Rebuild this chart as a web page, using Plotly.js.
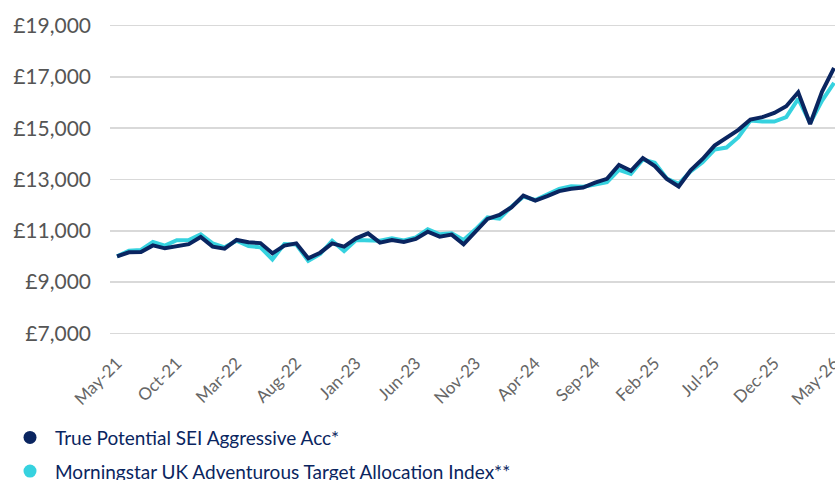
<!DOCTYPE html>
<html>
<head>
<meta charset="utf-8">
<script src="https://cdn.plot.ly/plotly-3.0.1.min.js"></script>
<style>html,body{margin:0;padding:0;background:#fff;}#chart{width:835px;height:480px;}</style>
</head>
<body>
<div id="chart"></div>
<script>
const months = [
  "May-21","Jun-21","Jul-21","Aug-21","Sep-21","Oct-21","Nov-21","Dec-21","Jan-22","Feb-22","Mar-22","Apr-22",
  "May-22","Jun-22","Jul-22","Aug-22","Sep-22","Oct-22","Nov-22","Dec-22","Jan-23","Feb-23","Mar-23","Apr-23",
  "May-23","Jun-23","Jul-23","Aug-23","Sep-23","Oct-23","Nov-23","Dec-23","Jan-24","Feb-24","Mar-24","Apr-24",
  "May-24","Jun-24","Jul-24","Aug-24","Sep-24","Oct-24","Nov-24","Dec-24","Jan-25","Feb-25","Mar-25","Apr-25",
  "May-25","Jun-25","Jul-25","Aug-25","Sep-25","Oct-25","Nov-25","Dec-25","Jan-26","Feb-26","Mar-26","Apr-26",
  "May-26"
];
const tickLabels = ["May-21","Oct-21","Mar-22","Aug-22","Jan-23","Jun-23","Nov-23","Apr-24","Sep-24","Feb-25","Jul-25","Dec-25","May-26"];
const yTicks = [7000, 9000, 11000, 13000, 15000, 17000, 19000];
const yTickLabels = ["\u00a37,000","\u00a39,000","\u00a311,000","\u00a313,000","\u00a315,000","\u00a317,000","\u00a319,000"];

const fundName = "True Potential SEI Aggressive Acc*";
const fundValues = [
  10000,10160,10170,10430,10315,10380,10480,10755,10380,10300,10640,10550,
  10520,10120,10420,10510,9925,10145,10510,10380,10705,10900,10535,10640,
  10560,10680,10965,10770,10850,10470,10965,11460,11615,11915,12370,12175,
  12350,12545,12635,12685,12880,13025,13570,13340,13835,13520,13025,12725,
  13360,13800,14320,14610,14935,15340,15430,15595,15855,16400,15165,16430,
  17350
];
const indexName = "Morningstar UK Adventurous Target Allocation Index**";
const indexValues = [
  10000,10220,10250,10560,10420,10630,10640,10860,10510,10355,10610,10405,
  10355,9885,10480,10460,9830,10095,10610,10210,10640,10640,10610,10705,
  10620,10745,11055,10860,10900,10640,11055,11525,11470,11940,12330,12200,
  12400,12635,12740,12715,12800,12895,13375,13220,13780,13650,13040,12830,
  13320,13670,14165,14245,14650,15300,15260,15260,15430,16140,15205,16075,
  16765
];

const navy = "#0a2560";
const cyan = "#36d2df";
const font = "Lato, 'Open Sans', sans-serif";

const traces = [
  {x: months, y: indexValues, type: "scatter", mode: "lines", name: indexName,
   line: {color: cyan, width: 4}, showlegend: false, hoverinfo: "skip"},
  {x: months, y: fundValues, type: "scatter", mode: "lines", name: fundName,
   line: {color: navy, width: 4}, showlegend: false, hoverinfo: "skip"},
  {x: [null], y: [null], type: "scatter", mode: "markers", name: fundName,
   marker: {color: navy, size: 13}, legendgroup: "a", showlegend: true},
  {x: [null], y: [null], type: "scatter", mode: "markers", name: indexName,
   marker: {color: cyan, size: 13}, legendgroup: "b", showlegend: true}
];

const layout = {
  width: 835, height: 480,
  margin: {l: 110, r: 0, t: 20, b: 140, autoexpand: false},
  paper_bgcolor: "#ffffff", plot_bgcolor: "#ffffff",
  font: {family: font, color: "#555555"},
  xaxis: {
    type: "category",
    range: [-0.59, 60.08],
    tickmode: "array", tickvals: tickLabels, ticktext: tickLabels,
    tickangle: -45, tickfont: {size: 17, color: "#666666"},
    showgrid: false, zeroline: false, showline: false, ticks: "",
    ticklabelstandoff: 9, automargin: false
  },
  yaxis: {
    range: [6740, 19220],
    tickmode: "array", tickvals: yTicks, ticktext: yTickLabels,
    tickfont: {size: 21, color: "#555555"},
    showgrid: true, gridcolor: "#d9d9d9", gridwidth: 1.5,
    zeroline: false, showline: false, ticks: "", ticklabelstandoff: 18,
    automargin: false
  },
  showlegend: true,
  legend: {
    orientation: "v", xref: "container", yref: "container",
    x: 0.006, y: 0.128, xanchor: "left", yanchor: "top",
    itemwidth: 40,
    font: {size: 19, color: navy}, traceorder: "grouped", tracegroupgap: 6,
    bgcolor: "rgba(0,0,0,0)"
  }
};

Plotly.newPlot("chart", traces, layout, {staticPlot: true, displayModeBar: false});
</script>
</body>
</html>
